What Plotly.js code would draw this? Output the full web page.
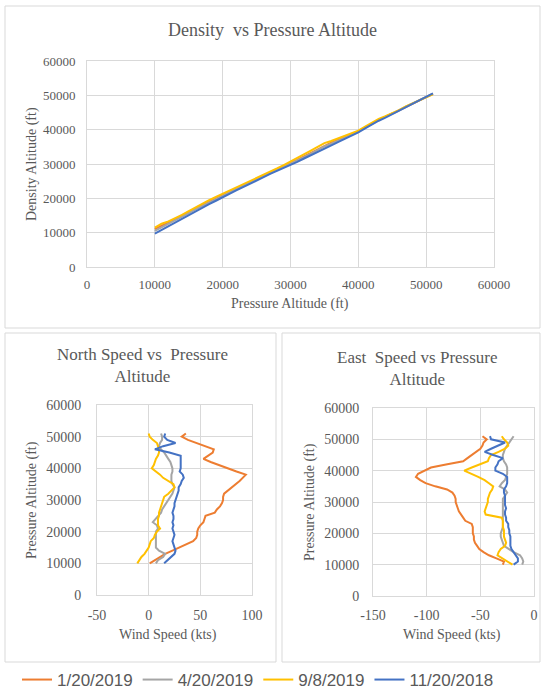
<!DOCTYPE html>
<html>
<head>
<meta charset="utf-8">
<script src="https://cdn.plot.ly/plotly-3.0.1.min.js"></script>
<style>
  html, body { margin: 0; padding: 0; background: #ffffff; }
  #chart { width: 544px; height: 696px; }
</style>
</head>
<body>
<div id="chart"></div>
<script>
// Flight dates (legend order)
const dates = ['1/20/2019', '4/20/2019', '9/8/2019', '11/20/2018'];

// Pressure altitude samples (ft)
const pressureAlt = [10000, 11000, 12000, 13000, 14000, 15000, 16000, 17000, 18000, 19000,
  20000, 21000, 22000, 23000, 24000, 25000, 26000, 27000, 28000, 29000,
  30000, 31000, 32000, 33000, 34000, 35000, 36000, 37000, 38000, 39000,
  40000, 41000, 42000, 43000, 44000, 45000, 46000, 47000, 48000, 49000,
  50000, 51000];

// Density altitude (ft) per flight
const densityJan = [11000, 12000, 13000, 14000, 15000, 16000, 17100, 18100, 19100, 20000,
  20900, 21900, 22900, 23800, 24700, 25700, 26600, 27500, 28400, 29300,
  30200, 31200, 32200, 33200, 34300, 35400, 36200, 37000, 37900, 38700,
  39500, 40700, 41800, 42900, 43800, 44700, 45700, 46700, 47600, 48600,
  49500, 50400];
const densityApr = [10500, 11500, 12500, 13600, 14700, 15700, 16800, 17800, 18800, 19700,
  20600, 21600, 22600, 23600, 24500, 25500, 26400, 27300, 28200, 29100,
  30000, 31000, 32000, 33000, 34100, 35100, 35900, 36700, 37600, 38500,
  39400, 40600, 41700, 42800, 43700, 44600, 45600, 46700, 47600, 48600,
  49500, 50500];
const densitySep = [11500, 12600, 13300, 14200, 15200, 16300, 17400, 18500, 19500, 20400,
  21300, 22300, 23300, 24200, 25100, 26000, 26900, 27800, 28700, 29700,
  30700, 31700, 32800, 33900, 35000, 36100, 36700, 37500, 38300, 39100,
  39700, 40900, 42000, 43100, 43900, 44700, 45700, 46800, 47700, 48600,
  49500, 50300];
const densityNov = [9700, 10800, 11900, 13000, 14100, 15200, 16300, 17300, 18300, 19300,
  20200, 21300, 22300, 23300, 24300, 25300, 26200, 27100, 28000, 28800,
  29600, 30600, 31600, 32600, 33600, 34600, 35500, 36400, 37300, 38200,
  39200, 40400, 41600, 42600, 43500, 44500, 45600, 46700, 47500, 48500,
  49600, 50600];

// North wind component (kts) per flight
const northJan = [1, 6, 10, 16, 23, 30, 37, 43, 46, 47,
  47, 48, 50, 53, 54, 55, 64, 66, 69, 71,
  72, 72, 73, 77, 81, 85, 88, 91, 94, 85,
  76, 68, 60, 53, 57, 62, 63, 54, 46, 38,
  32, 36];
const northApr = [7, 9, 14, 16, 10, 7, 7, 7, 7, 7,
  7, 9, 8, 4, 7, 10, 12, 13, 15, 17,
  19, 21, 23, 24, 25, 23, 22, 22, 22, 23,
  23, 22, 21, 19, 17, 15, 12, 10, 11, 13,
  13, 12];
const northSep = [-11, -9, -7, -4, -2, 0, 1, 2, 5, 6,
  8, 11, 9, 9, 9, 10, 10, 11, 12, 13,
  14, 15, 19, 22, 25, 24, 19, 14, 11, 7,
  3, 5, 6, 7, 9, 10, 10, 9, 8, 4,
  1, 0];
const northNov = [15, 18, 22, 25, 26, 25, 24, 23, 24, 25,
  24, 23, 24, 23, 24, 24, 23, 24, 25, 25,
  26, 27, 28, 29, 29, 31, 32, 34, 33, 30,
  31, 31, 31, 31, 31, 20, 6, 14, 26, 18,
  15, 16];

// East wind component (kts) per flight
const eastJan = [-29, -28, -35, -42, -47, -51, -53, -55, -56, -56,
  -57, -57, -57, -58, -64, -66, -68, -70, -71, -72,
  -73, -73, -74, -76, -81, -92, -101, -106, -110, -108,
  -102, -96, -82, -66, -62, -58, -54, -50, -48, -47,
  -44, -48];
const eastApr = [-11, -10, -11, -13, -19, -24, -28, -29, -30, -31,
  -31, -30, -29, -29, -29, -29, -29, -29, -29, -29,
  -29, -29, -27, -25, -27, -32, -30, -27, -26, -25,
  -25, -25, -26, -28, -29, -29, -28, -27, -25, -23,
  -21, -19];
const eastSep = [-20, -25, -30, -34, -33, -31, -27, -26, -27, -28,
  -28, -28, -29, -29, -29, -30, -45, -46, -45, -44,
  -43, -43, -42, -41, -39, -38, -42, -46, -52, -58,
  -65, -58, -50, -43, -42, -40, -33, -27, -24, -25,
  -28, -30];
const eastNov = [-19, -15, -15, -17, -19, -21, -22, -22, -22, -22,
  -23, -23, -24, -24, -26, -26, -27, -27, -26, -27,
  -27, -27, -27, -28, -28, -26, -25, -25, -25, -29,
  -36, -36, -34, -33, -29, -38, -46, -40, -33, -27,
  -40, -41];

// Axis tick values
const altTicks = [0, 10000, 20000, 30000, 40000, 50000, 60000];
const northTicks = [-50, 0, 50, 100];
const eastTicks = [-150, -100, -50, 0];

const colors = ['#ED7D31', '#A5A5A5', '#FFC000', '#4472C4'];
const W = 544, H = 696;
const px = x => x / W;
const py = y => 1 - y / H;

const serif = 'Liberation Serif, Times New Roman, serif';
const textGrey = '#595959';
const gridGrey = '#d9d9d9';

const densitySeries = [densityJan, densityApr, densitySep, densityNov];
const northSeries = [northJan, northApr, northSep, northNov];
const eastSeries = [eastJan, eastApr, eastSep, eastNov];

const traces = [];
dates.forEach((d, i) => {
  traces.push({
    x: pressureAlt, y: densitySeries[i], xaxis: 'x', yaxis: 'y',
    type: 'scatter', mode: 'lines', name: d, legendgroup: d,
    line: { color: colors[i], width: 2 }, showlegend: true
  });
});
dates.forEach((d, i) => {
  traces.push({
    x: northSeries[i], y: pressureAlt, xaxis: 'x2', yaxis: 'y2',
    type: 'scatter', mode: 'lines', name: d, legendgroup: d,
    line: { color: colors[i], width: 2 }, showlegend: false
  });
});
dates.forEach((d, i) => {
  traces.push({
    x: eastSeries[i], y: pressureAlt, xaxis: 'x3', yaxis: 'y3',
    type: 'scatter', mode: 'lines', name: d, legendgroup: d,
    line: { color: colors[i], width: 2 }, showlegend: false
  });
});

function axis(domain, range, ticks, fontSize, standoff, anchor) {
  return {
    domain: domain, range: range, anchor: anchor,
    tickmode: 'array', tickvals: ticks, ticktext: ticks.map(String),
    ticks: '', ticklabelstandoff: standoff,
    showgrid: true, gridcolor: gridGrey, gridwidth: 1,
    zeroline: false, showline: true, mirror: true,
    linecolor: gridGrey, linewidth: 1, fixedrange: true,
    tickfont: { family: serif, size: fontSize, color: textGrey }
  };
}

function label(text, x, y, size, angle) {
  return {
    text: text, xref: 'paper', yref: 'paper', x: px(x), y: py(y),
    xanchor: 'center', yanchor: 'middle', showarrow: false,
    textangle: angle || 0,
    font: { family: serif, size: size, color: textGrey }
  };
}

function frame(x0, y0, x1, y1) {
  return {
    type: 'rect', xref: 'paper', yref: 'paper',
    x0: px(x0), x1: px(x1), y0: py(y0), y1: py(y1),
    line: { color: gridGrey, width: 1 }, fillcolor: 'rgba(0,0,0,0)', layer: 'below'
  };
}

const layout = {
  width: W, height: H,
  margin: { l: 0, r: 0, t: 0, b: 0, autoexpand: false },
  paper_bgcolor: '#ffffff', plot_bgcolor: '#ffffff',
  showlegend: true,
  legend: {
    orientation: 'h', x: px(17), y: py(680), xanchor: 'left', yanchor: 'middle',
    font: { family: 'Liberation Sans, Arial, sans-serif', size: 17, color: textGrey },
    bgcolor: 'rgba(0,0,0,0)', itemclick: false, itemdoubleclick: false
  },
  xaxis: axis([px(87), px(494)], [0, 60000], altTicks, 13, 5, 'y'),
  yaxis: axis([py(267), py(61)], [0, 60000], altTicks, 13, 8, 'x'),
  xaxis2: axis([px(97), px(252)], [-50, 100], northTicks, 14, 7, 'y2'),
  yaxis2: axis([py(595), py(405)], [0, 60000], altTicks, 14, 12, 'x2'),
  xaxis3: axis([px(373), px(534)], [-150, 0], eastTicks, 14, 6, 'y3'),
  yaxis3: axis([py(596), py(408)], [0, 60000], altTicks, 14, 10, 'x3'),
  shapes: [
    frame(5, 6, 540, 328),
    frame(5, 333, 276, 662),
    frame(282, 333, 540, 662)
  ],
  annotations: [
    label('Density \u00a0vs Pressure Altitude', 272, 30, 18),
    label('Density Altitude (ft)', 32, 164, 14, -90),
    label('Pressure Altitude (ft)', 290, 304, 14),
    label('North Speed vs \u00a0Pressure<br>Altitude', 142, 365, 17),
    label('Pressure Altitude (ft)', 32, 500, 14, -90),
    label('Wind Speed (kts)', 168, 635, 14),
    label('East \u00a0Speed vs Pressure<br>Altitude', 417, 368, 17),
    label('Pressure Altitude (ft)', 310, 502, 14, -90),
    label('Wind Speed (kts)', 452, 635, 14)
  ]
};

Plotly.newPlot('chart', traces, layout, { staticPlot: true, displayModeBar: false });
</script>
</body>
</html>
